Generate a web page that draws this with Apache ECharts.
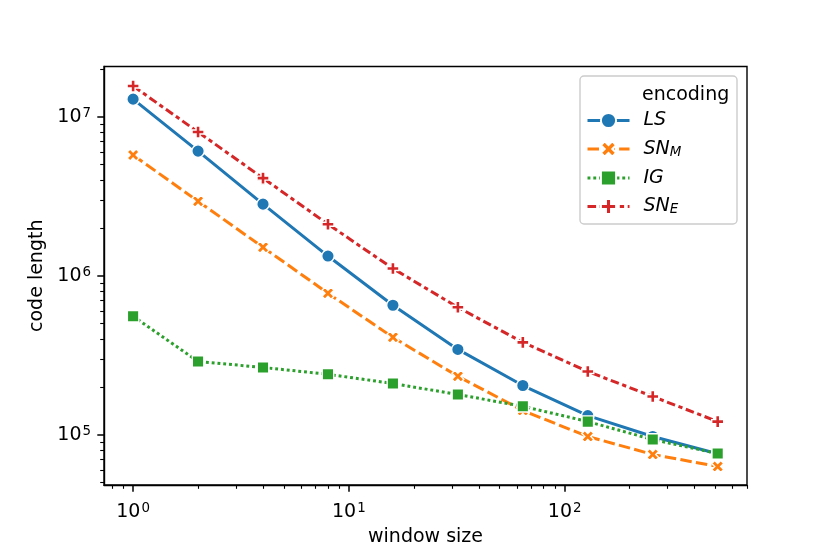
<!DOCTYPE html>
<html>
<head>
<meta charset="utf-8">
<script src="https://cdn.jsdelivr.net/npm/echarts@6/dist/echarts.min.js"></script>
<style>
html, body { margin: 0; padding: 0; background: #fff; }
#main { width: 830px; height: 554px; }
</style>
</head>
<body>
<div id="main"></div>
<script>
// data
var windowSize = [1, 2, 4, 8, 16, 32, 64, 128, 256, 512];
var lsVals  = [1.29e7, 6.08e6, 2.82e6, 1.33e6, 6.52e5, 3.44e5, 2.04e5, 1.32e5, 9.75e4, 7.6e4];
var snmVals = [5.74e6, 2.94e6, 1.51e6, 7.76e5, 4.10e5, 2.33e5, 1.42e5, 9.75e4, 7.52e4, 6.31e4];
var igVals  = [5.56e5, 2.89e5, 2.65e5, 2.40e5, 2.10e5, 1.79e5, 1.51e5, 1.21e5, 9.33e4, 7.62e4];
var sneVals = [1.56e7, 8.01e6, 4.11e6, 2.11e6, 1.11e6, 6.33e5, 3.81e5, 2.50e5, 1.74e5, 1.21e5];

var seriesNames = ['LS', 'SN_M', 'IG', 'SN_E'];
var xMajor = [1, 10, 100];
var xMinor = [0.8, 0.9, 2, 3, 4, 5, 6, 7, 8, 9, 20, 30, 40, 50, 60, 70, 80, 90, 200, 300, 400, 500, 600, 700];
var yMajor = [1e5, 1e6, 1e7];
var yMinor = [5e4, 6e4, 7e4, 8e4, 9e4, 2e5, 3e5, 4e5, 5e5, 6e5, 7e5, 8e5, 9e5,
              2e6, 3e6, 4e6, 5e6, 6e6, 7e6, 8e6, 9e6, 2e7];

var FONT = 'DejaVu Sans';
var xMin = 0.733, xMax = 700;
var yMin = 4.83e4, yMax = 2.07e7;

function pairs(vals) {
    return windowSize.map(function (w, i) { return [w, vals[i]]; });
}

// superscript power-of-ten label
function powLabel(v) {
    var e = Math.round(Math.log(v) / Math.LN10);
    return '{b|10}{s|' + e + '}';
}
var powRich = {
    b: { fontFamily: FONT, fontSize: 19, color: '#000', lineHeight: 20 },
    s: { fontFamily: FONT, fontSize: 13.4, color: '#000', lineHeight: 12, verticalAlign: 'top', padding: [0, 0, 0, 1] }
};

var plusPath = 'path://M-1,-3L1,-3L1,-1L3,-1L3,1L1,1L1,3L-1,3L-1,1L-3,1L-3,-1L-1,-1Z';
var xPath = 'path://M14,-28L28,-14L14,0L28,14L14,28L0,14L-14,28L-28,14L-14,0L-28,-14L-14,-28L0,-14Z';

var lineW = 3;
function mkSeries(name, vals, color, dash, symbol, size) {
    return {
        name: name,
        type: 'line',
        data: pairs(vals),
        symbol: symbol,
        symbolSize: size,
        showSymbol: true,
        animation: false,
        lineStyle: { color: color, width: lineW, type: dash },
        itemStyle: { color: color, borderColor: '#fff', borderWidth: 1.4, opacity: 1 },
        emphasis: { disabled: true }
    };
}

var myChart = echarts.init(document.getElementById('main'));

myChart.setOption({
    animation: false,
    grid: {
        left: 104, right: 83, top: 66.5, bottom: 69,
        show: true, borderColor: '#000', borderWidth: 1.4, backgroundColor: 'transparent'
    },
    xAxis: [{
        type: 'log', logBase: 10, min: xMin, max: xMax,
        position: 'bottom',
        name: 'window size', nameLocation: 'middle', nameGap: 43,
        nameTextStyle: { fontFamily: FONT, fontSize: 19, color: '#000' },
        axisLine: { show: true, lineStyle: { color: '#000', width: 1.4 } },
        axisTick: { show: true, inside: false, length: 6.7, lineStyle: { color: '#000', width: 1.5 }, customValues: xMajor },
        axisLabel: { margin: 17, formatter: powLabel, rich: powRich, customValues: xMajor },
        splitLine: { show: false },
        minorTick: { show: false }
    }, {
        // minor ticks only
        type: 'log', logBase: 10, min: xMin, max: xMax,
        position: 'bottom',
        axisLine: { show: false },
        axisTick: { show: true, length: 3.8, lineStyle: { color: '#000', width: 1.1 }, customValues: xMinor },
        axisLabel: { show: false },
        splitLine: { show: false }
    }],
    yAxis: [{
        type: 'log', logBase: 10, min: yMin, max: yMax,
        position: 'left',
        name: 'code length', nameLocation: 'middle', nameGap: 57,
        nameTextStyle: { fontFamily: FONT, fontSize: 19, color: '#000' },
        axisLine: { show: true, lineStyle: { color: '#000', width: 1.4 } },
        axisTick: { show: true, length: 6.7, lineStyle: { color: '#000', width: 1.5 }, customValues: yMajor },
        axisLabel: { margin: 13, formatter: powLabel, rich: powRich, customValues: yMajor },
        splitLine: { show: false }
    }, {
        type: 'log', logBase: 10, min: yMin, max: yMax,
        position: 'left',
        axisLine: { show: false },
        axisTick: { show: true, length: 3.8, lineStyle: { color: '#000', width: 1.1 }, customValues: yMinor },
        axisLabel: { show: false },
        splitLine: { show: false }
    }],
    legend: {
        orient: 'vertical',
        left: 586, top: 111,
        padding: 0,
        itemWidth: 42, itemHeight: 19, itemGap: 9.5,
        selectedMode: false,
        data: seriesNames,
        lineStyle: { width: 3 },
        textStyle: {
            padding: [0, 0, 0, 9],
            rich: {
                i: { fontFamily: FONT, fontStyle: 'italic', fontSize: 19, color: '#000', lineHeight: 20 },
                sub: { fontFamily: FONT, fontStyle: 'italic', fontSize: 13.4, color: '#000', lineHeight: 14, verticalAlign: 'bottom' }
            }
        },
        formatter: function (name) {
            var p = name.split('_');
            return p.length > 1 ? '{i|' + p[0] + '}{sub|' + p[1] + '}' : '{i|' + name + '}';
        },
        z: 5
    },
    graphic: [{
        type: 'rect', z: 4,
        shape: { x: 580, y: 76, width: 157, height: 148, r: 4 },
        style: { fill: 'rgba(255,255,255,0.8)', stroke: '#cccccc', lineWidth: 1.4 }
    }, {
        type: 'text', z: 5,
        x: 642, y: 95,
        style: { text: 'encoding', fontFamily: FONT, fontSize: 19, fill: '#000', verticalAlign: 'middle' }
    }],
    series: [
        mkSeries('LS', lsVals, '#1f77b4', 'solid', 'circle', 12.5),
        mkSeries('SN_M', snmVals, '#ff7f0e', [11.5, 4.3], xPath, 12),
        mkSeries('IG', igVals, '#2ca02c', [2.9, 2.9], 'rect', 11.5),
        mkSeries('SN_E', sneVals, '#d62728', [8.6, 3.6, 4.3, 3.6], plusPath, 12)
    ]
});
</script>
</body>
</html>
